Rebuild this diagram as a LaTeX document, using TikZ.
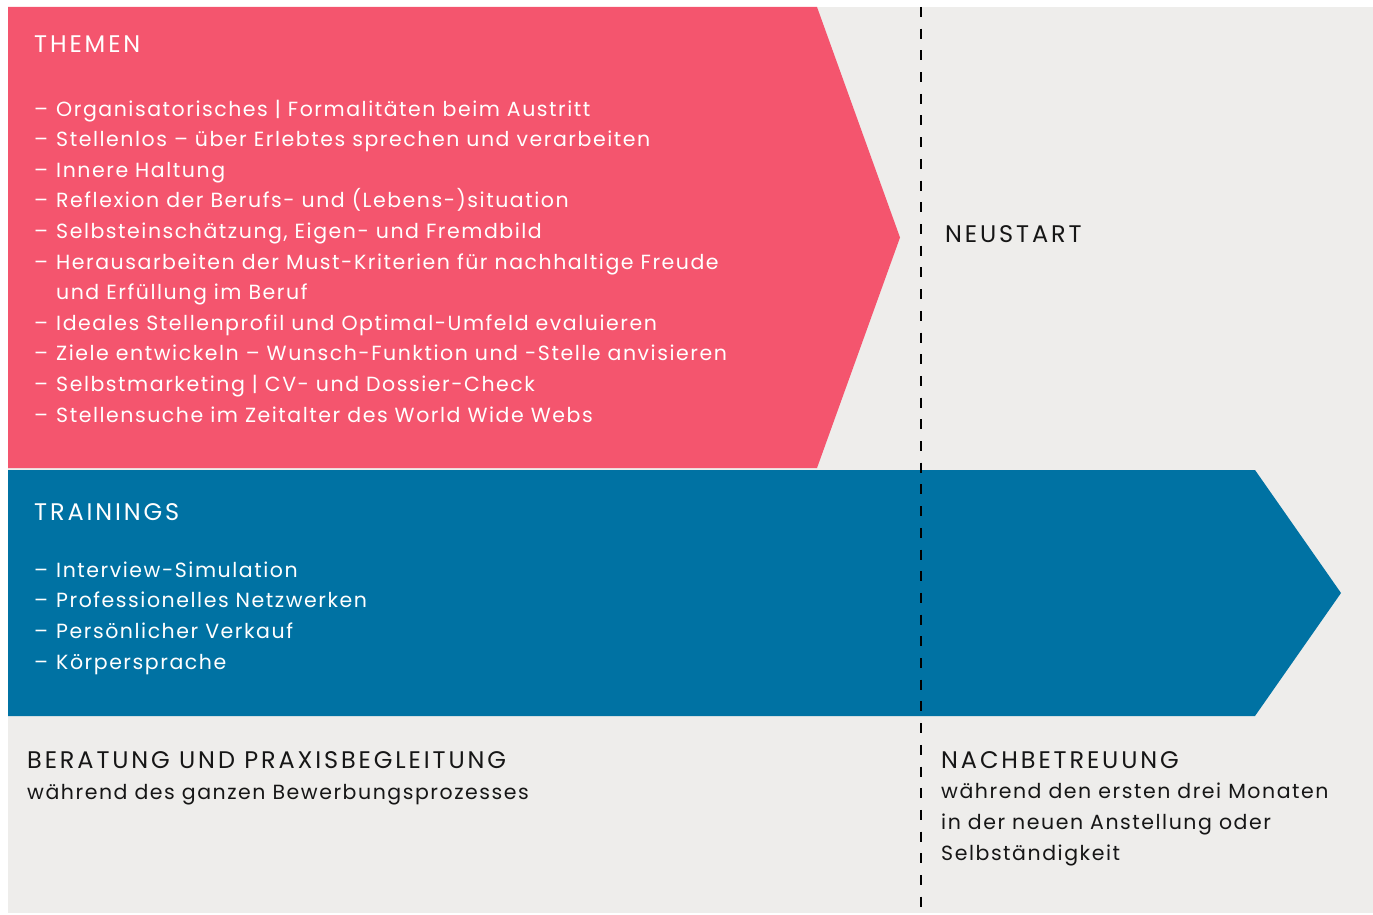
\documentclass[tikz,border=0pt]{standalone}
\usepackage{fontspec}
\setmainfont{Poppins}
\newfontfamily\bodyfont[LetterSpace=7.5]{Poppins}
\newfontfamily\headfont[LetterSpace=12]{Poppins}
\usetikzlibrary{positioning}
\definecolor{themenred}{HTML}{F4556E}
\definecolor{trainblue}{HTML}{0072A3}
\definecolor{panelgray}{HTML}{EEEDEB}
\definecolor{inkblack}{HTML}{161616}
\newcommand{\listdash}{\makebox[22pt][l]{–}}
\newcommand{\listgap}{\hspace*{22pt}}

\begin{document}
\begin{tikzpicture}[x=1pt, y=-1pt,
    heading/.style={anchor=base west, inner sep=0pt, font=\headfont\fontsize{24}{30.6}\selectfont},
    itemlist/.style={anchor=base west, inner sep=0pt, align=left, font=\bodyfont\fontsize{20.5}{30.6}\selectfont}]
    \useasboundingbox (0, 0) rectangle (1373, 915);
    % hintergrund und pfeile
    \fill[panelgray] (8, 7) rectangle (1373, 913);
    \fill[themenred] (8, 7) -- (817, 7) -- (900, 237.5) -- (817, 468) -- (8, 468) -- cycle;
    \fill[trainblue] (8, 470) -- (1255, 470) -- (1341, 593) -- (1255, 716) -- (8, 716) -- cycle;
    \draw[black, line width=2.6pt, dash pattern=on 10pt off 11.7pt] (921, 7) -- (921, 913);

    % themen (base = letzte zeile)
    \node[heading, white] (themen) at (34, 53) {THEMEN};
    \node[itemlist, white] (themenlist) at (34, 422) {%
        \listdash Organisatorisches | Formalitäten beim Austritt\\
        \listdash Stellenlos – über Erlebtes sprechen und verarbeiten\\
        \listdash Innere Haltung\\
        \listdash Reflexion der Berufs- und (Lebens-)situation\\
        \listdash Selbsteinschätzung, Eigen- und Fremdbild\\
        \listdash Herausarbeiten der Must-Kriterien für nachhaltige Freude\\
        \listgap und Erfüllung im Beruf\\
        \listdash Ideales Stellenprofil und Optimal-Umfeld evaluieren\\
        \listdash Ziele entwickeln – Wunsch-Funktion und -Stelle anvisieren\\
        \listdash Selbstmarketing | CV- und Dossier-Check\\
        \listdash Stellensuche im Zeitalter des World Wide Webs};

    % trainings
    \node[heading, white] (trainings) at (34, 520) {TRAININGS};
    \node[itemlist, white] (trainlist) at (34, 669) {%
        \listdash Interview-Simulation\\
        \listdash Professionelles Netzwerken\\
        \listdash Persönlicher Verkauf\\
        \listdash Körpersprache};

    % unten
    \node[heading, inkblack] (neustart) at (945, 242) {NEUSTART};
    \node[heading, inkblack] (beratung) at (27, 768) {BERATUNG UND PRAXISBEGLEITUNG};
    \node[itemlist, inkblack] (beratungtext) at (27, 799) {während des ganzen Bewerbungsprozesses};
    \node[heading, inkblack] (nachbetreuung) at (941, 768) {NACHBETREUUNG};
    \node[itemlist, inkblack] (nachtext) at (941, 860) {%
        während den ersten drei Monaten\\
        in der neuen Anstellung oder\\
        Selbständigkeit};
\end{tikzpicture}
\end{document}
